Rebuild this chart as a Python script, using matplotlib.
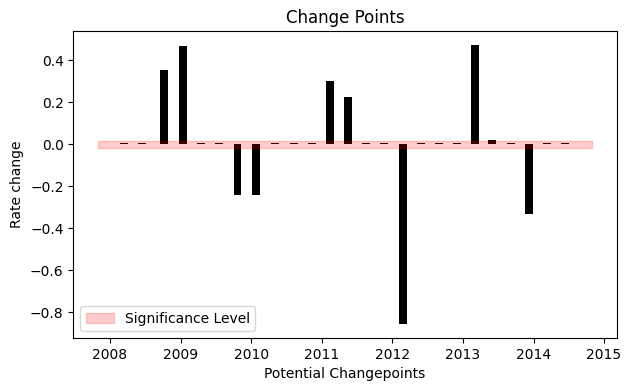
import matplotlib
matplotlib.use("Agg")
import matplotlib.pyplot as plt
import numpy as np
import pandas as pd

# candidate change point dates and estimated rate changes
dates = pd.to_datetime([
    "2008-03-15", "2008-06-16", "2008-10-08", "2009-01-12", "2009-04-16",
    "2009-07-18", "2009-10-23", "2010-01-27", "2010-05-06", "2010-08-10",
    "2010-11-13", "2011-02-14", "2011-05-18", "2011-08-20", "2011-11-21",
    "2012-02-24", "2012-05-30", "2012-08-31", "2012-12-01", "2013-03-03",
    "2013-06-02", "2013-09-07", "2013-12-08", "2014-03-12", "2014-06-13",
])
rate_change = [
    0.005, 0.005, 0.354, 0.468, 0.005,
    0.005, -0.239, -0.243, 0.005, 0.005,
    0.005, 0.302, 0.226, 0.005, 0.005,
    -0.855, 0.005, 0.005, 0.005, 0.473,
    0.022, 0.005, -0.333, 0.005, 0.005,
]
band_x = pd.to_datetime(["2007-11-01", "2014-10-31"])
sig_level = 0.018

fig, ax = plt.subplots(figsize=(6.3, 3.91), dpi=100)
fig.subplots_adjust(left=0.1164, right=0.979, top=0.921, bottom=0.1355)

ax.bar(dates, rate_change, width=40, color="black")
ax.fill_between(band_x, -sig_level, sig_level, color="red", alpha=0.2,
                label="Significance Level")

ax.set_title("Change Points")
ax.set_xlabel("Potential Changepoints")
ax.set_ylabel("Rate change")
ax.legend(loc="lower left")

fig.savefig("out.png", dpi=100)
